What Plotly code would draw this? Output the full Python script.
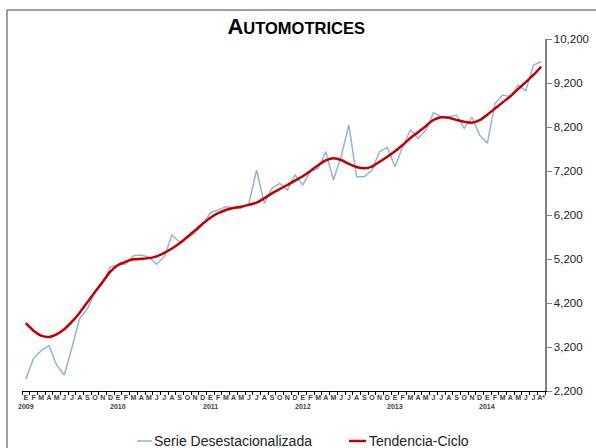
import plotly.graph_objects as go

months = ["E", "F", "M", "A", "M", "J", "J", "A", "S", "O", "N", "D"]
years = ["2009", "2010", "2011", "2012", "2013", "2014"]
month_labels = months * 5 + ["E", "F", "M", "A", "M", "J", "J", "A*"]
x_idx = list(range(len(month_labels)))

serie_desest = [
    2470, 2943, 3116, 3230, 2791, 2564, 3189, 3852, 4068, 4439, 4648, 5018,
    5064, 5086, 5275, 5291, 5239, 5080, 5252, 5745, 5580, 5690, 5790, 5990,
    6252, 6314, 6389, 6366, 6352, 6466, 7223, 6466, 6807, 6920, 6768, 7109,
    6882, 7190, 7261, 7639, 6995, 7540, 8245, 7071, 7071, 7223, 7639, 7739,
    7298, 7752, 8132, 7943, 8132, 8525, 8434, 8434, 8473, 8170, 8420, 8018,
    7830, 8739, 8927, 8889, 9155, 9025, 9609, 9684,
]
tendencia = [
    3740, 3570, 3457, 3427, 3489, 3602, 3775, 3980, 4216, 4457, 4684, 4911,
    5064, 5139, 5193, 5205, 5220, 5260, 5340, 5440, 5557, 5700, 5850, 6000,
    6139, 6240, 6314, 6360, 6389, 6430, 6480, 6580, 6693, 6790, 6882, 6980,
    7080, 7200, 7330, 7440, 7489, 7450, 7360, 7290, 7261, 7300, 7410, 7525,
    7650, 7790, 7950, 8080, 8220, 8359, 8420, 8410, 8360, 8320, 8298, 8355,
    8480, 8620, 8760, 8900, 9060, 9220, 9382, 9570,
]
y_ticks = [2200, 3200, 4200, 5200, 6200, 7200, 8200, 9200, 10200]
series_names = ["Serie Desestacionalizada", "Tendencia-Ciclo"]
series_colors = ["#95B3D7", "#C00000"]

FONT = "Liberation Sans, Arial, sans-serif"

fig = go.Figure()
fig.add_trace(go.Scatter(
    x=x_idx, y=serie_desest, mode="lines", name=series_names[0],
    line=dict(color=series_colors[0], width=1.5),
))
fig.add_trace(go.Scatter(
    x=x_idx, y=tendencia, mode="lines", name=series_names[1],
    line=dict(color=series_colors[1], width=2.5, shape="spline", smoothing=0.8),
))

# plot area geometry in pixels (for legend / frame placement)
L, R, T, B = 22, 51, 39, 57
W, H = 596, 448
pw, ph = W - L - R, H - T - B


def px_x(px):
    return (px - L) / pw


def px_y(py):
    return (H - B - py) / ph


annotations = []
for k, yr in enumerate(years):
    annotations.append(dict(
        x=x_idx[k * 12], xref="x", y=px_y(406.5), yref="paper", text=yr,
        showarrow=False, xanchor="center", yanchor="middle",
        font=dict(family=FONT, size=7, color="#404040", weight="bold"),
    ))

# legend (drawn manually to match short sample lines)
leg_y = 441
leg_items = [(137, 152, 153), (349, 366, 368)]
shapes = []
for (x0, x1, xt), name, col, w in zip(leg_items, series_names, series_colors, [1.5, 2.5]):
    shapes.append(dict(type="line", xref="paper", yref="paper",
                       x0=px_x(x0), x1=px_x(x1), y0=px_y(leg_y), y1=px_y(leg_y),
                       line=dict(color=col, width=w)))
    annotations.append(dict(
        x=px_x(xt), xref="paper", y=px_y(leg_y), yref="paper", text=name,
        showarrow=False, xanchor="left", yanchor="middle", xshift=-1,
        font=dict(family=FONT, size=14, color="#222222"),
    ))

# outer frame (left and top edges visible)
shapes += [
    dict(type="line", xref="paper", yref="paper",
         x0=px_x(7), x1=px_x(7), y0=px_y(460), y1=px_y(10),
         line=dict(color="#404040", width=1)),
    dict(type="line", xref="paper", yref="paper",
         x0=px_x(7), x1=px_x(610), y0=px_y(10), y1=px_y(10),
         line=dict(color="#404040", width=1)),
]

fig.update_layout(
    width=W, height=H,
    margin=dict(l=L, r=R, t=T, b=B, autoexpand=False),
    paper_bgcolor="white", plot_bgcolor="white",
    title=dict(
        text="<span style='font-size:22px'>A</span>UTOMOTRICES",
        x=0.497, xanchor="center", xref="container",
        y=0.938, yanchor="middle", yref="container",
        font=dict(family=FONT, size=16.5, color="black", weight="bold"),
    ),
    xaxis=dict(
        type="category", range=[-0.5, 67.5], automargin=False,
        tickvals=x_idx, ticktext=month_labels, tickson="boundaries",
        ticks="outside", ticklen=3, tickcolor="black", tickwidth=1,
        showline=True, linecolor="black", linewidth=1,
        showgrid=False, zeroline=False,
        tickfont=dict(family=FONT, size=7, color="#404040", weight="bold"),
        tickangle=0,
    ),
    yaxis=dict(
        side="right", range=[2200, 10200], tickvals=y_ticks, automargin=False,
        tickformat=",.0f",
        ticks="outside", ticklen=5, tickcolor="#808080", tickwidth=1,
        showline=True, linecolor="#808080", linewidth=1.5,
        showgrid=False, zeroline=False,
        tickfont=dict(family=FONT, size=11.5, color="#222222"),
    ),
    showlegend=False,
    hovermode=False,
    annotations=annotations,
    shapes=shapes,
)

fig.write_html(
    "out.html",
    config={"displayModeBar": False, "staticPlot": True},
    post_script="document.body.style.margin='0';document.body.style.overflow='hidden';",
)
